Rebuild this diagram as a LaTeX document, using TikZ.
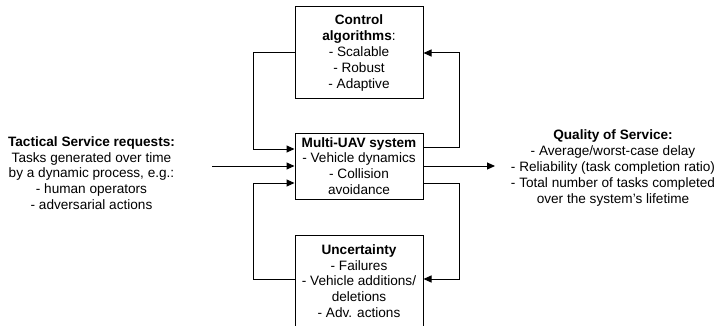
\documentclass[tikz,border=0pt]{standalone}
\usepackage{fontspec}
\setmainfont{Liberation Sans}
\usetikzlibrary{arrows.meta}
\begin{document}
\begin{tikzpicture}[x=1pt,y=-1pt,
  box/.style={draw, line width=1pt, minimum width=128pt, align=center, inner sep=0pt, font=\fontsize{13.6}{15.8}\selectfont},
  txt/.style={align=center, inner sep=0pt, font=\fontsize{13.6}{15.8}\selectfont},
  conn/.style={line width=1pt, -{Triangle[length=8pt,width=7pt]}},
  plain/.style={line width=1pt}]
\useasboundingbox (0,0) rectangle (719,326);
\node[box, minimum height=92pt] (ctrl) at (359,53) {\textbf{Control}\\\textbf{algorithms}:\\- Scalable\\- Robust\\- Adaptive};
\node[box, minimum height=66pt] (uav) at (359,166) {\textbf{Multi-UAV system}\\- Vehicle dynamics\\- Collision\\avoidance};
\node[box, minimum height=92pt] (unc) at (359,281) {\textbf{Uncertainty}\\- Failures\\- Vehicle additions/\\deletions\\- Adv. actions};
\node[txt] (tac) at (91.5,173) {\textbf{Tactical Service requests:}\\Tasks generated over time\\by a dynamic process, e.g.:\\- human operators\\- adversarial actions};
\node[txt] (qos) at (613,168) {\textbf{Quality of Service:}\\- Average/worst-case delay\\- Reliability (task completion ratio)\\- Total number of tasks completed\\over the system's lifetime};
\coordinate (inS) at (212,166);
\coordinate (outE) at (495,166);
\draw[conn] (inS) -- (uav.west);
\draw[conn] (uav.east) -- (outE);
\draw[conn] (ctrl.west |- 0,53) -| (253,149) -- (uav.west |- 0,149);
\draw[conn] (unc.west |- 0,279) -| (253,183) -- (uav.west |- 0,183);
\draw[conn] (uav.east |- 0,147) -| (459,53) -- (ctrl.east |- 0,53);
\draw[conn] (uav.east |- 0,183) -| (459,279) -- (unc.east |- 0,279);
\end{tikzpicture}
\end{document}
